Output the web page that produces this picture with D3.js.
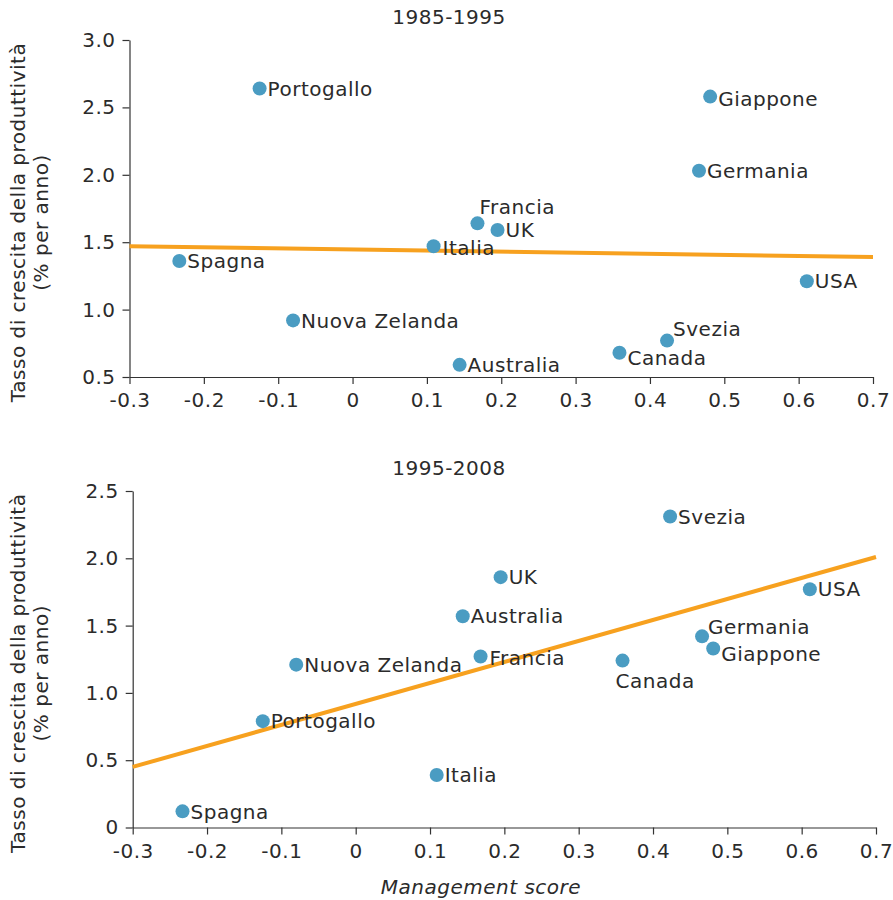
<!DOCTYPE html>
<html>
<head>
<meta charset="utf-8">
<script src="https://cdn.jsdelivr.net/npm/d3@7"></script>
<style>
  body { margin: 0; background: #fff; }
  svg text { font-family: "DejaVu Sans", sans-serif; fill: #2b2b2b; letter-spacing: 0.5px; }
  .axis path, .axis line { stroke: #333; stroke-width: 1.2; }
  .axis text { font-size: 20px; }
  .label { font-size: 20px; }
</style>
</head>
<body>
<svg width="893" height="900"></svg>
<script>
// ***Data***
var countries = ["Portogallo", "Spagna", "Nuova Zelanda", "Italia", "Francia", "UK",
                 "Australia", "Canada", "Svezia", "USA", "Germania", "Giappone"];
var managementScore = [-0.125, -0.233, -0.080, 0.109, 0.168, 0.195,
                       0.144, 0.359, 0.423, 0.611, 0.466, 0.481];
var growth1985 = [2.64, 1.36, 0.92, 1.47, 1.64, 1.59, 0.59, 0.68, 0.77, 1.21, 2.03, 2.58];
var growth1995 = [0.79, 0.12, 1.21, 0.39, 1.27, 1.86, 1.57, 1.24, 2.31, 1.77, 1.42, 1.33];
// fitted line, value at x = -0.3 and x = 0.7
var trend1985 = [1.47, 1.39];
var trend1995 = [0.45, 2.01];
var xTicks = [-0.3, -0.2, -0.1, 0, 0.1, 0.2, 0.3, 0.4, 0.5, 0.6, 0.7];
var yTicks1985 = [0.5, 1.0, 1.5, 2.0, 2.5, 3.0];
var yTicks1995 = [0, 0.5, 1.0, 1.5, 2.0, 2.5];

// label placement tweaks (dx, dy from dot centre), default is right of the dot
var labelPos1985 = {
  "Francia": [2, -17], "Svezia": [6, -12], "Canada": [8, 5], "Italia": [9, 2], "Giappone": [8, 2]
};
var labelPos1995 = {
  "Germania": [6, -10], "Canada": [-7, 20], "Giappone": [8, 5], "Francia": [9, 1]
};

var svg = d3.select("svg");

function fmt(d) { return d === 0 ? "0" : d.toFixed(1); }

function drawPanel(opts) {
  var g = svg.append("g");
  var x = d3.scaleLinear().domain([-0.3, 0.7]).range(opts.xRange);
  var y = d3.scaleLinear().domain(opts.yDomain).range(opts.yRange);

  g.append("g")
    .attr("class", "axis")
    .attr("transform", "translate(0," + opts.yRange[0] + ")")
    .call(d3.axisBottom(x).tickValues(xTicks).tickFormat(fmt).tickSize(7).tickSizeOuter(0).tickPadding(9));

  g.append("g")
    .attr("class", "axis")
    .attr("transform", "translate(" + opts.xRange[0] + ",0)")
    .call(d3.axisLeft(y).tickValues(opts.yTicks).tickFormat(fmt).tickSize(7).tickSizeOuter(0).tickPadding(7));

  g.selectAll(".axis text").attr("fill", "#2b2b2b");

  // title
  g.append("text")
    .attr("x", 449)
    .attr("y", opts.yRange[1] - 16)
    .attr("text-anchor", "middle")
    .style("font-size", "20px")
    .text(opts.title);

  // y label, two lines
  var cy = (opts.yRange[0] + opts.yRange[1]) / 2 + 14;
  g.append("text")
    .attr("transform", "translate(25," + cy + ") rotate(-90)")
    .attr("text-anchor", "middle")
    .style("font-size", "20px")
    .text("Tasso di crescita della produttività");
  g.append("text")
    .attr("transform", "translate(48," + cy + ") rotate(-90)")
    .attr("text-anchor", "middle")
    .style("font-size", "20px")
    .text("(% per anno)");

  // trend line
  g.append("line")
    .attr("x1", x(-0.3)).attr("y1", y(opts.trend[0]))
    .attr("x2", x(0.7)).attr("y2", y(opts.trend[1]))
    .attr("stroke", "#f7a11f")
    .attr("stroke-width", 4);

  var data = countries.map(function(c, i) {
    return { name: c, score: managementScore[i], growth: opts.values[i] };
  });

  g.selectAll("circle.dot")
    .data(data)
    .enter().append("circle")
    .attr("class", "dot")
    .attr("cx", function(d) { return x(d.score); })
    .attr("cy", function(d) { return y(d.growth); })
    .attr("r", 7)
    .attr("fill", "#4a9cc2");

  g.selectAll("text.label")
    .data(data)
    .enter().append("text")
    .attr("class", "label")
    .attr("x", function(d) {
      var p = opts.labelPos[d.name] || [8, 0];
      return x(d.score) + p[0];
    })
    .attr("y", function(d) {
      var p = opts.labelPos[d.name] || [8, 0];
      return y(d.growth) + p[1];
    })
    .attr("dy", "0.36em")
    .text(function(d) { return d.name; });
}

drawPanel({
  title: "1985-1995",
  xRange: [129.5, 873],
  yRange: [377, 40],
  yDomain: [0.5, 3.0],
  yTicks: yTicks1985,
  values: growth1985,
  trend: trend1985,
  labelPos: labelPos1985
});

drawPanel({
  title: "1995-2008",
  xRange: [132.7, 876],
  yRange: [827.5, 491],
  yDomain: [0, 2.5],
  yTicks: yTicks1995,
  values: growth1995,
  trend: trend1995,
  labelPos: labelPos1995
});

svg.append("text")
  .attr("x", 481)
  .attr("y", 894)
  .attr("text-anchor", "middle")
  .style("font-size", "20px")
  .style("font-style", "italic")
  .text("Management score");
</script>
</body>
</html>
